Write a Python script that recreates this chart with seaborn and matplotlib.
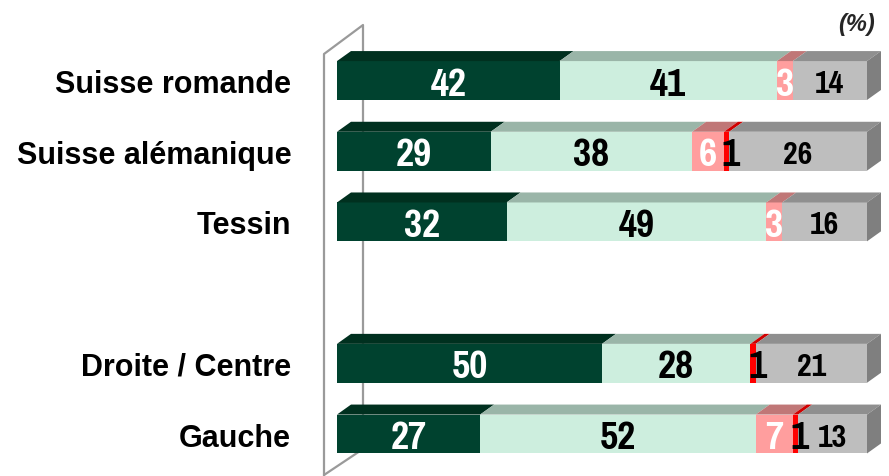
import pandas as pd
import numpy as np
import matplotlib
matplotlib.use("Agg")
import matplotlib.pyplot as plt
from matplotlib.patches import Polygon
from matplotlib.lines import Line2D
import seaborn as sns

sns.set_theme(style="white")
plt.rcParams['font.family'] = ['Liberation Sans', 'DejaVu Sans']
NUM_FONT = ['Pragati Narrow', 'Roboto Condensed', 'DejaVu Sans']

# données (%)
regions = ["Suisse romande", "Suisse alémanique", "Tessin", "Droite / Centre", "Gauche"]
tout_a_fait = [42, 29, 32, 50, 27]
plutot_oui = [41, 38, 49, 28, 52]
plutot_non = [3, 6, 3, 0, 7]
pas_du_tout = [0, 1, 0, 1, 1]
ne_sait_pas = [14, 26, 16, 21, 13]

order = ["Suisse romande", "Suisse alémanique", "Tessin", " ", "Droite / Centre", "Gauche"]

segments = ['tout_a_fait', 'plutot_oui', 'plutot_non', 'pas_du_tout', 'ne_sait_pas']
front_colors = ['#00422F', '#CDEEDE', '#FF9E9E', '#FF0000', '#BEBEBE']
top_colors = ['#00301F', '#9AB5A8', '#C07777', '#D00000', '#8F8F8F']
side_color = '#7F7F7F'
label_colors = ['white', 'black', 'white', 'black', 'black']
label_sizes = [31, 31, 31, 31, 25]

df = pd.DataFrame({
    'region': regions,
    'tout_a_fait': tout_a_fait,
    'plutot_oui': plutot_oui,
    'plutot_non': plutot_non,
    'pas_du_tout': pas_du_tout,
    'ne_sait_pas': ne_sait_pas,
})
cum = df[segments].cumsum(axis=1)

W, H = 889, 477
fig = plt.figure(figsize=(W / 100, H / 100), dpi=100)
ax = fig.add_axes([337 / W, 0, 530 / W, 1])
ax.patch.set_visible(False)

bar_h = 0.55
# barres empilées : cumuls dessinés du plus long au plus court
for i in range(len(segments) - 1, -1, -1):
    sns.barplot(x=cum[segments[i]], y=df['region'], order=order, orient='h',
                color=front_colors[i], saturation=1, width=bar_h, linewidth=0,
                ax=ax, zorder=2)

ax.set_xlim(0, 100)
ax.set_ylim(5.594, -1.153)

# profondeur 3D en unités de données
px_x = 530 / 100
px_y = 477 / (5.594 + 1.153)
dx = 14 / px_x
dy = 10 / px_y

ypos = {r: order.index(r) for r in regions}
for _, row in df.iterrows():
    y = ypos[row['region']]
    yt, yb = y - bar_h / 2, y + bar_h / 2
    left = 0
    for i, seg in enumerate(segments):
        v = row[seg]
        if v <= 0:
            continue
        right = left + v
        ax.add_patch(Polygon([(left, yt), (right, yt), (right + dx, yt - dy), (left + dx, yt - dy)],
                             closed=True, facecolor=top_colors[i], edgecolor='none',
                             clip_on=False, zorder=3))
        xc = (left + right) / 2
        if seg == 'pas_du_tout':
            xc = right + 0.3
        ax.text(xc, y, str(v), ha='center', va='center_baseline',
                color=label_colors[i], fontsize=label_sizes[i], fontweight='bold',
                family=NUM_FONT, zorder=5)
        left = right
    ax.add_patch(Polygon([(left, yt), (left + dx, yt - dy), (left + dx, yb - dy), (left, yb)],
                         closed=True, facecolor=side_color, edgecolor='none',
                         clip_on=False, zorder=3))

# mur de fond
wall_x = np.array([324, 324, 363, 363])
wall_y = np.array([477, 55, 26, 452])
fig.add_artist(Line2D(wall_x / W, 1 - wall_y / H, color='#9A9A9A', lw=1.6, zorder=-1))
fig.add_artist(Line2D(np.array([324, 363]) / W, 1 - np.array([476, 450]) / H,
                      color='#9A9A9A', lw=1.6, zorder=-1))

sns.despine(ax=ax, left=True, bottom=True)
ax.set_xticks([])
ax.set_xlabel('')
ax.set_ylabel('')
ax.tick_params(axis='y', length=0, pad=33)
for lbl in ax.get_yticklabels():
    lbl.set_fontsize(22)
    lbl.set_fontweight('bold')
    lbl.set_color('black')

fig.text(857 / W, 1 - 24 / H, '(%)', ha='center', va='center', fontsize=17,
         fontweight='bold', style='italic')

plt.savefig('out.png', dpi=100)
